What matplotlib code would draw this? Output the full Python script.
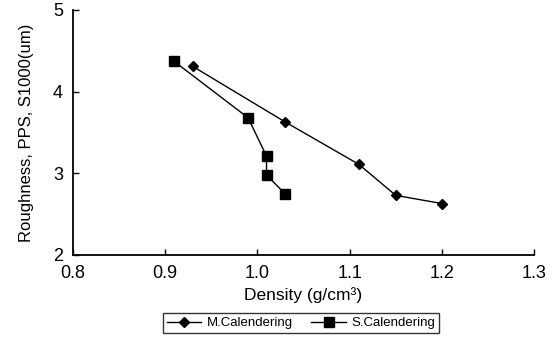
import matplotlib
matplotlib.use("Agg")
import matplotlib.pyplot as plt

plt.rcParams['font.family'] = ['Liberation Sans', 'DejaVu Sans']

m_density = [0.93, 1.03, 1.11, 1.15, 1.20]
m_rough = [4.31, 3.63, 3.11, 2.73, 2.63]
s_density = [0.91, 0.99, 1.01, 1.01, 1.03]
s_rough = [4.37, 3.68, 3.21, 2.98, 2.75]
xticks = [0.8, 0.9, 1.0, 1.1, 1.2, 1.3]
xticklabels = ['0.8', '0.9', '1.0', '1.1', '1.2', '1.3']
yticks = [2, 3, 4, 5]

fig = plt.figure(figsize=(5.53, 3.42), dpi=100)
ax = fig.add_axes([0.1315, 0.2544, 0.8345, 0.7164])
ax.plot(m_density, m_rough, color='black', lw=1.0, marker='D', ms=5.5,
        label='M.Calendering')
ax.plot(s_density, s_rough, color='black', lw=1.0, marker='s', ms=6.5,
        label='S.Calendering')
ax.set_xlim(0.8, 1.3)
ax.set_ylim(2, 5)
ax.set_xticks(xticks)
ax.set_xticklabels(xticklabels)
ax.set_yticks(yticks)
ax.spines['top'].set_visible(False)
ax.spines['right'].set_visible(False)
ax.spines['left'].set_linewidth(1.3)
ax.spines['bottom'].set_linewidth(1.3)
ax.tick_params(direction='in', length=4, width=1.0, labelsize=13, pad=7)
ax.set_xlabel('Density (g/cm³)', fontsize=12.5, labelpad=4)
ax.set_ylabel('Roughness, PPS, S1000(um)', fontsize=12, labelpad=14)
leg = ax.legend(loc='center', bbox_to_anchor=(301/553, 1-323/342),
                bbox_transform=fig.transFigure, ncol=2, fontsize=9.5,
                frameon=True, fancybox=False, edgecolor='black',
                handlelength=2.6, columnspacing=1.4, handletextpad=0.4,
                borderpad=0.3, borderaxespad=0)
leg.get_frame().set_linewidth(1.0)
fig.savefig('out.png', dpi=100)
